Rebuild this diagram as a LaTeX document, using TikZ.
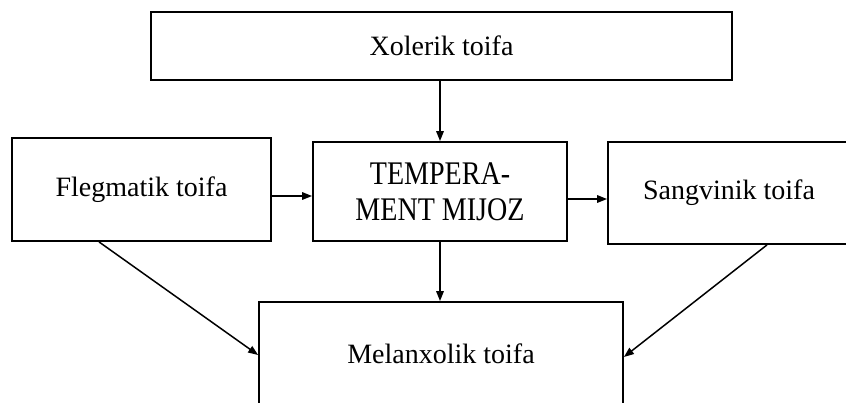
\documentclass[tikz,border=0pt]{standalone}
\usepackage{fontspec}
\setmainfont{Liberation Serif}
\newfontfamily\capsfont[FakeStretch=0.85]{Liberation Serif}
\usetikzlibrary{arrows.meta}
\tikzset{
  box/.style={draw=black, line width=1.8pt, inner sep=0pt, align=center,
    font=\fontsize{28}{32}\selectfont},
  arr/.style={line width=1.5pt, -{Triangle[length=10pt,width=7.5pt]}}
}
\begin{document}
\begin{tikzpicture}[x=1pt,y=-1pt]
\useasboundingbox (0,0) rectangle (846,402);
\node[box, minimum width=581pt, minimum height=68pt] (xol) at (441.5,46) {Xolerik toifa};
\node[box, minimum width=259pt, minimum height=103pt] (fleg) at (141.5,189.5) {Flegmatik toifa};
\node[box, minimum width=254pt, minimum height=99pt, font=\capsfont\fontsize{33}{36}\selectfont] (temp) at (440,191.5) {TEMPERA-\\MENT MIJOZ};
\node[box, minimum width=242pt, minimum height=102pt] (sang) at (729,193) {Sangvinik toifa};
\node[box, minimum width=364pt, minimum height=103pt] (mel) at (441,353.5) {Melanxolik toifa};
\draw[arr] (temp.north |- xol.south) -- (temp.north);
\draw[arr] ([yshift=-6.5pt]fleg.east) -- ([yshift=-6.5pt]fleg.east -| temp.west);
\draw[arr] ([yshift=-7.5pt]temp.east) -- ([yshift=-7.5pt]temp.east -| sang.west);
\draw[arr] (temp.south) -- (temp.south |- mel.north);
\draw[arr] ([xshift=-42.5pt]fleg.south) -- ([yshift=-1.5pt]mel.west);
\draw[arr] ([xshift=38pt]sang.south) -- ([yshift=-3.5pt]mel.east);
\end{tikzpicture}
\end{document}
